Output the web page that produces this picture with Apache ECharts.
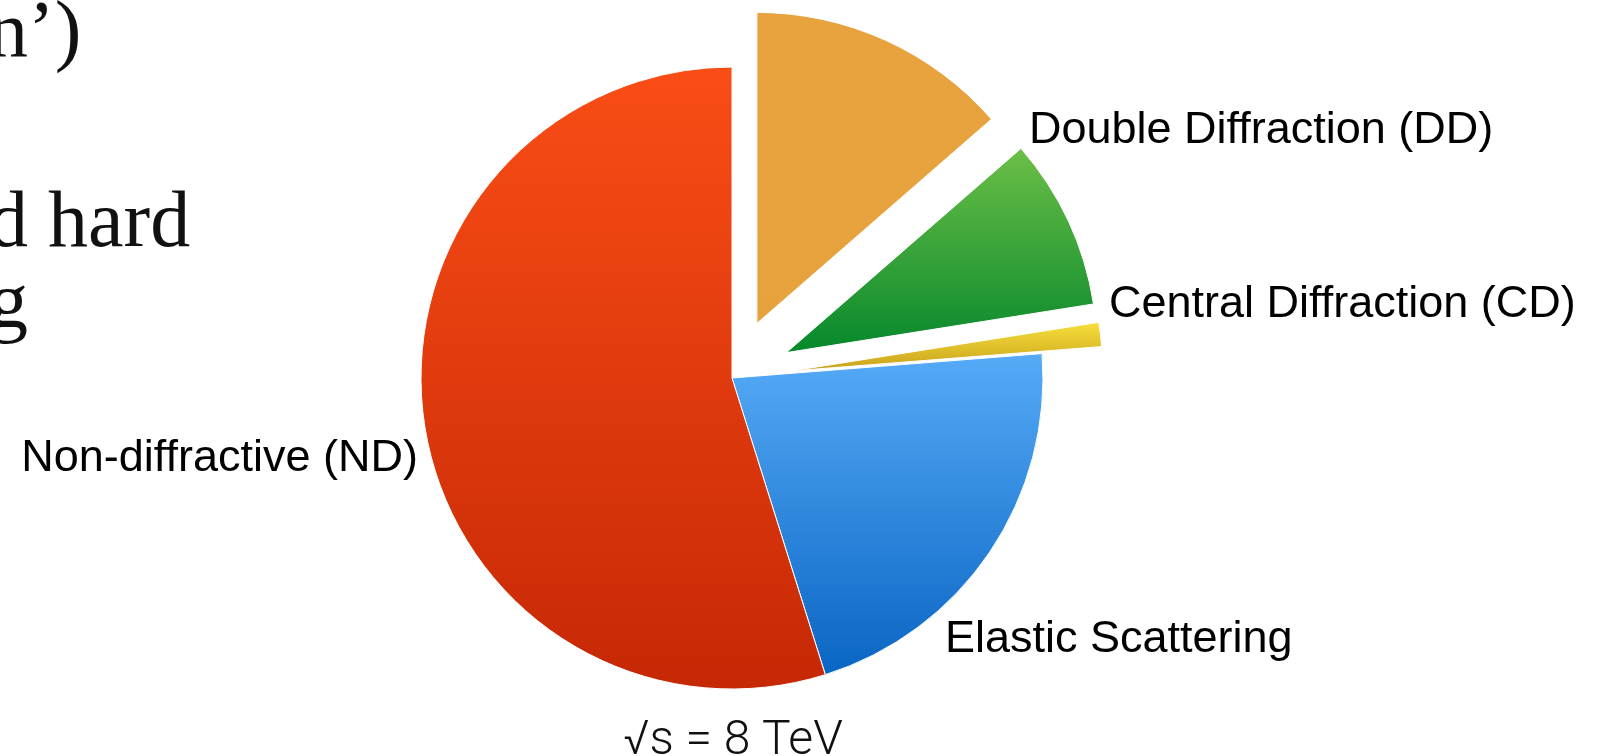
<!DOCTYPE html>
<html>
<head>
<meta charset="utf-8">
<title>pp cross sections at 8 TeV</title>
<script src="https://cdn.jsdelivr.net/npm/echarts@6/dist/echarts.min.js"></script>
<style>
  html, body { margin: 0; padding: 0; background: #ffffff; }
  #chart { width: 1599px; height: 756px; }
</style>
</head>
<body>
<div id="chart"></div>
<script>
// Share of the total pp cross section per process (percent), clockwise from 12 o'clock
const processNames = [
  'Single Diffraction (SD)',
  'Double Diffraction (DD)',
  'Central Diffraction (CD)',
  'Elastic Scattering',
  'Non-diffractive (ND)'
];
const processShares = [13.6, 8.9, 1.25, 21.4, 54.85];
const explodedProcesses = [true, true, true, false, false];
const labelledProcesses = [false, true, true, true, true];
const energyLabel = '\u221As = 8 TeV';
// Fragments of the slide text running in from the left
const sideTextLines = ['n\u2019)', 'd hard', 'g'];

// Vertical gradient per slice: [top colour, bottom colour]
const sliceGradients = [
  ['#E8A33F', '#E6A23D'],
  ['#6CBF47', '#06882C'],
  ['#F7E03A', '#C8A11C'],
  ['#56ABF7', '#0A65C3'],
  ['#FA4D16', '#C62805']
];

// Label anchor for each process: [x, y, align]
const labelAnchors = [
  null,
  [1029, 131, 'left'],
  [1109, 305, 'left'],
  [945, 640, 'left'],
  [418, 459, 'right']
];

const LABEL_FONT = '45px "Liberation Sans", Arial, Helvetica, sans-serif';
const SERIF_FONT = '80px "Liberation Serif", "DejaVu Serif", serif';

const chart = echarts.init(document.getElementById('chart'), null, { renderer: 'canvas' });

const pieData = processNames.map((name, i) => ({
  name: name,
  value: processShares[i],
  selected: explodedProcesses[i],
  itemStyle: {
    color: new echarts.graphic.LinearGradient(0, 0, 0, 1, [
      { offset: 0, color: sliceGradients[i][0] },
      { offset: 1, color: sliceGradients[i][1] }
    ])
  }
}));

// Category labels, one per labelled slice
const labelGraphics = processNames
  .map((name, i) => labelledProcesses[i] ? {
    type: 'text',
    silent: true,
    style: {
      x: labelAnchors[i][0],
      y: labelAnchors[i][1],
      text: name,
      textAlign: labelAnchors[i][2],
      textVerticalAlign: 'middle',
      fill: '#000000',
      font: LABEL_FONT
    }
  } : null)
  .filter(Boolean);

// Slide text lines (top-aligned boxes)
const sideTextTops = [-5, 185, 266];
const sideGraphics = sideTextLines.map((line, i) => ({
  type: 'text',
  silent: true,
  style: {
    x: -12,
    y: sideTextTops[i],
    text: line,
    textAlign: 'left',
    textVerticalAlign: 'top',
    fill: '#111111',
    font: SERIF_FONT
  }
}));

const option = {
  backgroundColor: '#ffffff',
  animation: false,
  series: [{
    type: 'pie',
    center: [732, 378],
    radius: [0, 311],
    startAngle: 90,
    clockwise: true,
    selectedMode: 'multiple',
    selectedOffset: 60,
    silent: true,
    itemStyle: { borderColor: '#ffffff', borderWidth: 1 },
    label: { show: false },
    labelLine: { show: false },
    emphasis: { disabled: true },
    data: pieData
  }],
  graphic: labelGraphics.concat(sideGraphics, [{
    type: 'text',
    silent: true,
    style: {
      x: 733,
      y: 742,
      text: energyLabel,
      textAlign: 'center',
      textVerticalAlign: 'middle',
      fill: '#111111',
      font: '300 48px Roboto, "Liberation Sans", sans-serif'
    }
  }])
};

chart.setOption(option);
</script>
</body>
</html>
